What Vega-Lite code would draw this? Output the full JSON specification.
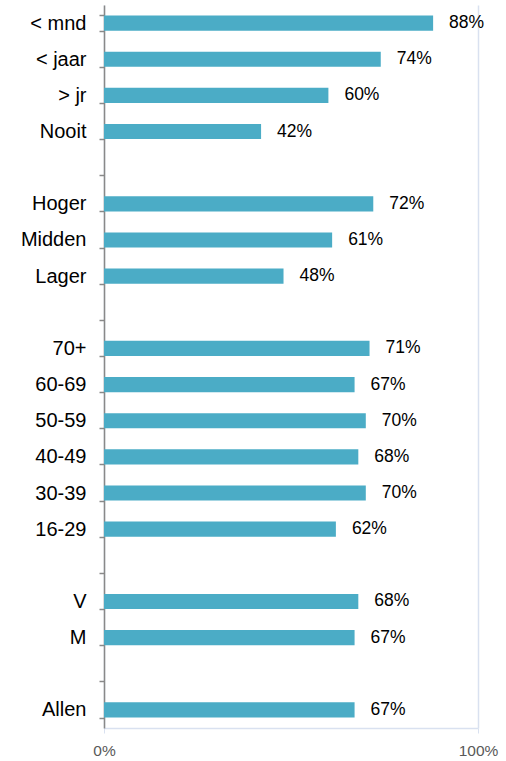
{
  "$schema": "https://vega.github.io/schema/vega-lite/v6.json",
  "width": 374,
  "height": 723,
  "autosize": {"type": "none"},
  "padding": {"left": 104, "top": 5, "right": 28, "bottom": 33},
  "config": {
    "view": {"stroke": null},
    "font": "Liberation Sans"
  },
  "data": {
    "values": [
      {"cat": "< mnd", "value": 0.88},
      {"cat": "< jaar", "value": 0.74},
      {"cat": "> jr", "value": 0.60},
      {"cat": "Nooit", "value": 0.42},
      {"cat": "Hoger", "value": 0.72},
      {"cat": "Midden", "value": 0.61},
      {"cat": "Lager", "value": 0.48},
      {"cat": "70+", "value": 0.71},
      {"cat": "60-69", "value": 0.67},
      {"cat": "50-59", "value": 0.70},
      {"cat": "40-49", "value": 0.68},
      {"cat": "30-39", "value": 0.70},
      {"cat": "16-29", "value": 0.62},
      {"cat": "V", "value": 0.68},
      {"cat": "M", "value": 0.67},
      {"cat": "Allen", "value": 0.67}
    ]
  },
  "encoding": {
    "y": {
      "field": "cat",
      "type": "nominal",
      "scale": {
        "domain": ["< mnd", "< jaar", "> jr", "Nooit", "_b1", "Hoger", "Midden", "Lager", "_b2", "70+", "60-69", "50-59", "40-49", "30-39", "16-29", "_b3", "V", "M", "_b4", "Allen"],
        "paddingInner": 0.58,
        "paddingOuter": 0.29
      },
      "axis": {
        "title": null,
        "tickBand": "extent",
        "labelExpr": "indexof(datum.label, '_b') == 0 ? '' : datum.label",
        "labelFontSize": 20,
        "labelFontWeight": "normal",
        "labelColor": "#000000",
        "labelPadding": 13,
        "tickSize": 5,
        "tickColor": "#898989",
        "domainColor": "#898989",
        "domainWidth": 1.5,
        "tickWidth": 1.5,
        "grid": false
      }
    },
    "x": {
      "field": "value",
      "type": "quantitative",
      "scale": {"domain": [0, 1], "nice": false},
      "axis": {
        "title": null,
        "values": [0, 1],
        "format": ".0%",
        "labelFontSize": 15.5,
        "labelFontWeight": "normal",
        "labelFlush": false,
        "labelColor": "#595959",
        "labelPadding": 10,
        "tickSize": 5,
        "tickColor": "#D9E1F0",
        "domainColor": "#D9E1F0",
        "domainWidth": 1.5,
        "grid": true,
        "gridColor": "#D9E1F0",
        "gridWidth": 1.5
      }
    }
  },
  "layer": [
    {"mark": {"type": "bar", "color": "#4BACC6"}},
    {
      "mark": {"type": "text", "align": "left", "baseline": "middle", "dx": 16, "fontSize": 17.5, "color": "#000000"},
      "encoding": {"text": {"field": "value", "type": "quantitative", "format": ".0%"}}
    }
  ]
}
